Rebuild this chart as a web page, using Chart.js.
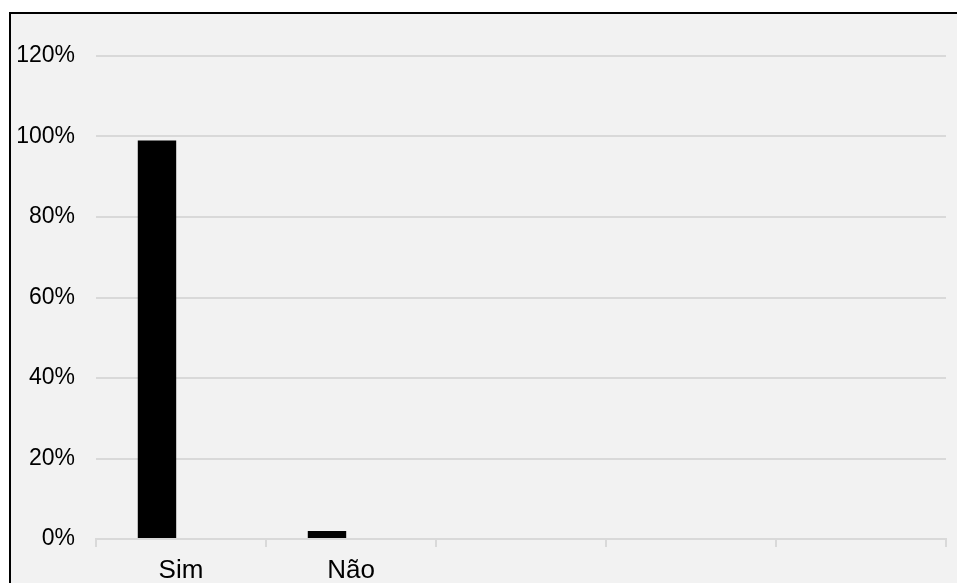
<!DOCTYPE html>
<html>
<head>
<meta charset="utf-8">
<script src="https://cdn.jsdelivr.net/npm/chart.js@4/dist/chart.umd.min.js"></script>
<style>
  html, body { margin: 0; padding: 0; background: #ffffff; }
  body { width: 957px; height: 583px; overflow: hidden; position: relative; }
  #frame {
    position: absolute; left: 9px; top: 12px;
    width: 946px; height: 571px;
    border-left: 2px solid #000; border-top: 2px solid #000;
    background: #f2f2f2;
  }
  #wrap { position: absolute; left: 0; top: 0; width: 946px; height: 571px; }
</style>
</head>
<body>
<div id="frame"><div id="wrap"><canvas id="c"></canvas></div></div>
<script>
const categories = ['Sim', 'Não', '', '', ''];
const seriesValues = [99, 2, null, null, null];
const emptySeries = [null, null, null, null, null];
const yTicks = [0, 20, 40, 60, 80, 100, 120];

const ctx = document.getElementById('c');
new Chart(ctx, {
  type: 'bar',
  data: {
    labels: categories,
    datasets: [
      { label: 'Série 1', data: seriesValues, backgroundColor: '#000000', borderWidth: 0,
        categoryPercentage: 0.565, barPercentage: 0.8 },
      { label: 'Série 2', data: emptySeries, backgroundColor: '#000000', borderWidth: 0,
        categoryPercentage: 0.565, barPercentage: 0.8 }
    ]
  },
  options: {
    responsive: true,
    maintainAspectRatio: false,
    animation: false,
    layout: { padding: { top: 42, right: 11, bottom: 0, left: 0 } },
    plugins: { legend: { display: false }, tooltip: { enabled: false } },
    scales: {
      x: {
        grid: { offset: true, drawOnChartArea: false, drawTicks: true, tickLength: 8,
                color: '#d9d9d9', lineWidth: 2 },
        border: { display: true, color: '#d9d9d9', width: 2 },
        ticks: { color: '#000', font: { family: '"Liberation Sans", Arial, sans-serif', size: 26 },
                 padding: 8, maxRotation: 0, autoSkip: false },
        afterFit: (s) => { s.height = 46; }
      },
      y: {
        min: 0, max: 120,
        afterBuildTicks: (s) => { s.ticks = yTicks.map(v => ({ value: v })); },
        grid: { color: '#d9d9d9', lineWidth: 2, drawTicks: false },
        border: { display: false },
        ticks: { color: '#000', font: { family: '"Liberation Sans", Arial, sans-serif', size: 23 },
                 padding: 21, callback: (v) => v + '%' },
        afterFit: (s) => { s.width = 85; }
      }
    }
  }
});
</script>
</body>
</html>
